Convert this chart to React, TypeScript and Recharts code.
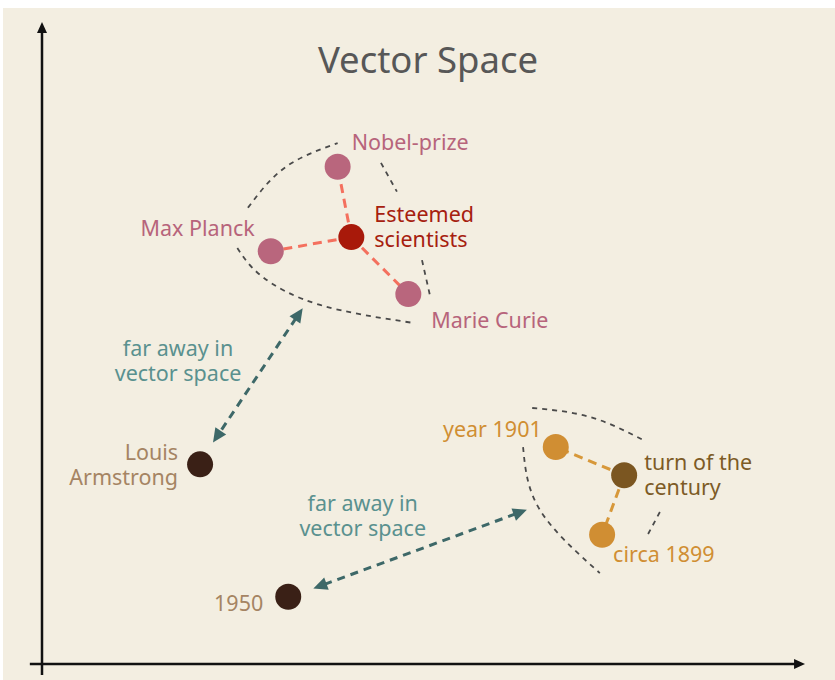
import React from 'react';
import { ComposedChart, XAxis, YAxis, Scatter, Line, ReferenceLine } from 'recharts';

// ---- data (abstract vector-space coordinates, 0..100 on both axes) ----
const scientists = [
  { name: 'Nobel-prize', label: ['Nobel-prize'], x: 38.9, y: 77.7 },
  { name: 'Max Planck', label: ['Max Planck'], x: 30.1, y: 64.5 },
  { name: 'Marie Curie', label: ['Marie Curie'], x: 48.2, y: 57.8 },
];
const esteemed = [{ name: 'Esteemed scientists', label: ['Esteemed', 'scientists'], x: 40.7, y: 66.7 }];
const unrelated = [
  { name: 'Louis Armstrong', label: ['Louis', 'Armstrong'], x: 20.8, y: 31.2 },
  { name: '1950', label: ['1950'], x: 32.4, y: 10.5 },
];
const years = [
  { name: 'year 1901', label: ['year 1901'], x: 67.6, y: 33.9 },
  { name: 'circa 1899', label: ['circa 1899'], x: 73.7, y: 20.2 },
];
const centuryHub = [{ name: 'turn of the century', label: ['turn of the', 'century'], x: 76.6, y: 29.5 }];

const farNotes = [
  { name: 'note1', label: ['far away in', 'vector space'], x: 17.9, y: 47.6 },
  { name: 'note2', label: ['far away in', 'vector space'], x: 42.2, y: 23.4 },
];

// arrows between clusters (double-headed)
const arrow1 = [{ x: 34.3, y: 55.6 }, { x: 22.5, y: 34.6 }];
const arrow2 = [{ x: 63.8, y: 24.1 }, { x: 35.7, y: 11.8 }];

// cluster outline strokes
const sciOutlineTop = [{ x: 27.1, y: 71.3 }, { x: 32.0, y: 77.6 }, { x: 38.9, y: 81.4 }];
const sciOutlineRight = [{ x: 44.6, y: 78.3 }, { x: 46.7, y: 73.8 }];
const sciOutlineBottom = [{ x: 25.7, y: 65.0 }, { x: 29.0, y: 60.5 }, { x: 36.6, y: 56.1 }, { x: 48.8, y: 53.3 }];
const sciOutlineEdge = [{ x: 50.0, y: 63.1 }, { x: 51.1, y: 57.3 }];
const yearOutlineTop = [{ x: 64.5, y: 40.0 }, { x: 72.1, y: 38.6 }, { x: 79.1, y: 35.0 }];
const yearOutlineLeft = [{ x: 63.3, y: 33.9 }, { x: 65.5, y: 24.1 }, { x: 73.4, y: 14.2 }];
const yearOutlineRight = [{ x: 81.3, y: 23.75 }, { x: 79.7, y: 20.2 }];

const outlines = [sciOutlineTop, sciOutlineRight, sciOutlineBottom, sciOutlineEdge, yearOutlineTop, yearOutlineLeft, yearOutlineRight];

// axes
const yAxisLine = [{ x: 0, y: -1.7 }, { x: 0, y: 100.3 }];
const xAxisLine = [{ x: -1.6, y: 0 }, { x: 100.4, y: 0 }];

// ---- styles ----
const FONT = '"Noto Sans", "Open Sans", sans-serif';
const BG = '#F3EEE1';

type Lay = { dx: number; dy: number; anchor: 'start' | 'end' | 'middle' };
const labelLayout: Record<string, Lay> = {
  'Nobel-prize': { dx: 14, dy: -26, anchor: 'start' },
  'Max Planck': { dx: -16, dy: -24, anchor: 'end' },
  'Marie Curie': { dx: 23, dy: 25, anchor: 'start' },
  'Esteemed scientists': { dx: 23, dy: -24, anchor: 'start' },
  'Louis Armstrong': { dx: -22, dy: -13, anchor: 'end' },
  '1950': { dx: -25, dy: 5, anchor: 'end' },
  'year 1901': { dx: -14, dy: -19, anchor: 'end' },
  'circa 1899': { dx: 11, dy: 18, anchor: 'start' },
  'turn of the century': { dx: 20, dy: -14, anchor: 'start' },
  note1: { dx: 0, dy: -12, anchor: 'middle' },
  note2: { dx: 0, dy: -12, anchor: 'middle' },
};

const LINE_GAP = 25;

const renderLabel = (cx: number, cy: number, payload: any, color: string) => {
  const lay = labelLayout[payload.name];
  const x = cx + lay.dx;
  return (
    <text
      x={x}
      y={cy + lay.dy}
      textAnchor={lay.anchor}
      dominantBaseline="central"
      fill={color}
      fontSize={21.5}
      fontFamily={FONT}
    >
      {payload.label.map((t: string, i: number) => (
        <tspan key={i} x={x} dy={i === 0 ? 0 : LINE_GAP}>
          {t}
        </tspan>
      ))}
    </text>
  );
};

const pointShape = (fill: string, textColor: string) => (props: any) => {
  const { cx, cy, payload } = props;
  return (
    <g>
      <circle cx={cx} cy={cy} r={13} fill={fill} />
      {renderLabel(cx, cy, payload, textColor)}
    </g>
  );
};

const textShape = (textColor: string) => (props: any) => {
  const { cx, cy, payload } = props;
  return <g>{renderLabel(cx, cy, payload, textColor)}</g>;
};

const head = (x: number, y: number, ang: number, len: number, half: number, color: string, key: string) => {
  const bx = x - len * Math.cos(ang);
  const by = y - len * Math.sin(ang);
  const px = -Math.sin(ang) * half;
  const py = Math.cos(ang) * half;
  return <polygon key={key} points={`${x},${y} ${bx + px},${by + py} ${bx - px},${by - py}`} fill={color} />;
};

const arrowShape = (color: string, width: number, dash: string | undefined, len: number, half: number, startHead: boolean) => (p: any) => {
  const { x1, y1, x2, y2 } = p;
  const ang = Math.atan2(y2 - y1, x2 - x1);
  const sx = startHead ? x1 + (len - 2) * Math.cos(ang) : x1;
  const sy = startHead ? y1 + (len - 2) * Math.sin(ang) : y1;
  const ex = x2 - (len - 2) * Math.cos(ang);
  const ey = y2 - (len - 2) * Math.sin(ang);
  return (
    <g>
      <line x1={sx} y1={sy} x2={ex} y2={ey} stroke={color} strokeWidth={width} strokeDasharray={dash} />
      {head(x2, y2, ang, len, half, color, 'e')}
      {startHead ? head(x1, y1, ang + Math.PI, len, half, color, 's') : null}
    </g>
  );
};

const hub = esteemed[0];
const cent = centuryHub[0];

export default function App() {
  return (
    <div style={{ position: 'absolute', left: 0, top: 0, width: 835, height: 680, background: '#ffffff', overflow: 'hidden' }}>
      <div style={{ position: 'absolute', left: 3, top: 8, width: 832, height: 672, background: BG }} />
      <div
        style={{
          position: 'absolute',
          left: 0,
          width: 856,
          top: 41,
          textAlign: 'center',
          fontFamily: FONT,
          fontSize: 36.5,
          lineHeight: '36px',
          color: '#575757',
        }}
      >
        Vector Space
      </div>
      <div style={{ position: 'absolute', left: 0, top: 0 }}>
        <ComposedChart width={835} height={680} margin={{ top: 24, right: 33, bottom: 16, left: 42 }}>
          <XAxis type="number" dataKey="x" domain={[0, 100]} allowDataOverflow hide />
          <YAxis type="number" dataKey="y" domain={[0, 100]} allowDataOverflow hide />

          <ReferenceLine segment={yAxisLine} ifOverflow="visible" shape={arrowShape('#111', 2.5, undefined, 11, 5, false)} />
          <ReferenceLine segment={xAxisLine} ifOverflow="visible" shape={arrowShape('#111', 2.5, undefined, 11, 5, false)} />

          {outlines.map((o, i) => (
            <Line
              key={'o' + i}
              data={o}
              dataKey="y"
              type="natural"
              stroke="#4a4a4a"
              strokeWidth={1.8}
              strokeDasharray="5 5"
              dot={false}
              activeDot={false}
              isAnimationActive={false}
            />
          ))}

          {scientists.map((s) => (
            <ReferenceLine
              key={'c' + s.name}
              segment={[{ x: hub.x, y: hub.y }, { x: s.x, y: s.y }]}
              stroke="#F4705E"
              strokeWidth={3}
              strokeDasharray="9 6"
              ifOverflow="visible"
            />
          ))}
          {years.map((s) => (
            <ReferenceLine
              key={'y' + s.name}
              segment={[{ x: cent.x, y: cent.y }, { x: s.x, y: s.y }]}
              stroke="#D7983A"
              strokeWidth={3}
              strokeDasharray="9 6"
              ifOverflow="visible"
            />
          ))}

          <ReferenceLine segment={arrow1} ifOverflow="visible" shape={arrowShape('#3D6868', 3, '8 6', 14, 6.5, true)} />
          <ReferenceLine segment={arrow2} ifOverflow="visible" shape={arrowShape('#3D6868', 3, '8 6', 14, 6.5, true)} />

          <Scatter data={scientists} dataKey="y" shape={pointShape('#B9667D', '#B7647B')} isAnimationActive={false} />
          <Scatter data={esteemed} dataKey="y" shape={pointShape('#A8190A', '#A6200F')} isAnimationActive={false} />
          <Scatter data={unrelated} dataKey="y" shape={pointShape('#3A2016', '#A58463')} isAnimationActive={false} />
          <Scatter data={years} dataKey="y" shape={pointShape('#D08E33', '#D08E33')} isAnimationActive={false} />
          <Scatter data={centuryHub} dataKey="y" shape={pointShape('#7B5621', '#7D5B26')} isAnimationActive={false} />
          <Scatter data={farNotes} dataKey="y" shape={textShape('#5A918F')} isAnimationActive={false} />
        </ComposedChart>
      </div>
    </div>
  );
}
